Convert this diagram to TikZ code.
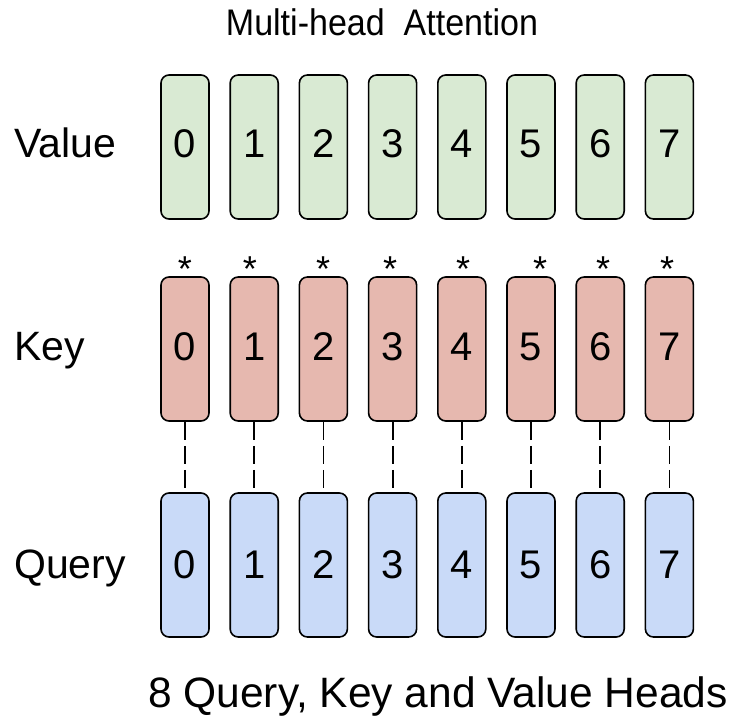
\documentclass[tikz,border=0pt]{standalone}
\usepackage{fontspec}
\setmainfont{Liberation Sans}
\newfontfamily\narrowsans[FakeStretch=0.92]{Liberation Sans}
\definecolor{valfill}{HTML}{D9EAD3}
\definecolor{keyfill}{HTML}{E6B8AF}
\definecolor{qryfill}{HTML}{C9DAF8}
\begin{document}
\begin{tikzpicture}[x=1pt,y=-1pt,
  headbox/.style={draw=black, line width=1.6pt, rounded corners=8pt,
    minimum width=48pt, inner sep=0pt},
  rowlabel/.style={anchor=base west, inner sep=0pt, font=\fontsize{41}{48}\selectfont},
  digit/.style={anchor=base, inner sep=0pt, font=\fontsize{40}{48}\selectfont},
  star/.style={anchor=base, inner sep=0pt, font=\fontsize{36}{40}\selectfont},
  link/.style={line width=1.8pt, dash pattern=on 18pt off 6pt}]
\useasboundingbox (0,0) rectangle (733,719);

% title and caption
\node[inner sep=0pt, anchor=base, font=\narrowsans\fontsize{37}{44}\selectfont] (title) at (382,36) {Multi-head\ \ Attention};
\node[inner sep=0pt, anchor=base, font=\fontsize{42.5}{48}\selectfont] (caption) at (438,707) {8 Query, Key and Value Heads};

% row labels
\node[rowlabel] (lv) at (14,158) {Value};
\node[rowlabel] (lk) at (14,360) {Key};
\node[rowlabel] (lq) at (14,578) {Query};

% eight heads per row
\foreach \i/\sx in {0/185,1/250,2/323,3/390,4/463,5/540,6/603,7/667} {
  \pgfmathsetmacro{\cx}{185+69.2*\i}
  \node[headbox, fill=valfill, minimum height=144pt] (v\i) at (\cx,147) {};
  \node[headbox, fill=keyfill, minimum height=144pt] (k\i) at (\cx,349) {};
  \node[headbox, fill=qryfill, minimum height=144pt] (q\i) at (\cx,565) {};
  \node[digit] (vd\i) at (\cx,158) {\i};
  \node[digit] (kd\i) at (\cx,360) {\i};
  \node[digit] (qd\i) at (\cx,578) {\i};
  \node[star] (s\i) at (\sx,281) {*};
  \draw[link] (k\i.south) -- (q\i.north);
}
\end{tikzpicture}
\end{document}
